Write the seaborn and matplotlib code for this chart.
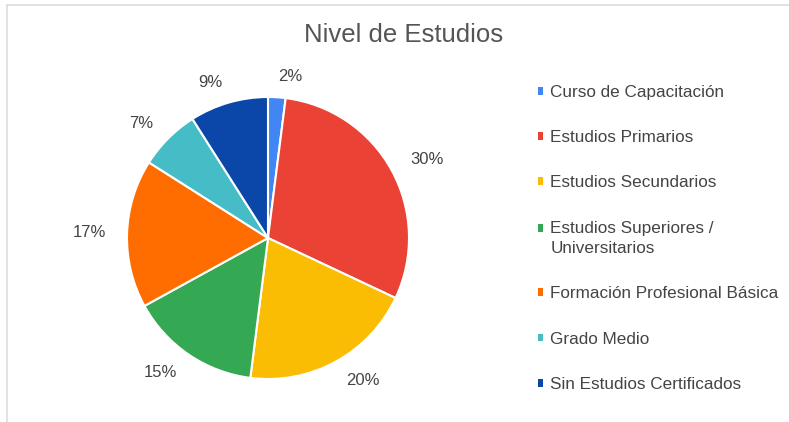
import matplotlib
matplotlib.use("Agg")
import matplotlib.pyplot as plt
from matplotlib.patches import Patch
from matplotlib.lines import Line2D
import seaborn as sns

categories = [
    "Curso de Capacitación",
    "Estudios Primarios",
    "Estudios Secundarios",
    "Estudios Superiores /\nUniversitarios",
    "Formación Profesional Básica",
    "Grado Medio",
    "Sin Estudios Certificados",
]
values = [2, 30, 20, 15, 17, 7, 9]
colors = ["#4285F4", "#EA4335", "#FBBC04", "#34A853", "#FF6D01", "#46BDC6", "#0B47A8"]

sns.set_theme(style="white")
plt.rcParams["font.family"] = ["Liberation Sans", "DejaVu Sans"]
palette = sns.color_palette(colors)

fig = plt.figure(figsize=(7.89, 4.22), dpi=100)

# pie axes: center (268,238), radius 141 px
cx, cy, r = 268, 238, 141
W, H = 789, 422
ax = fig.add_axes([(cx - r) / W, (H - cy - r) / H, 2 * r / W, 2 * r / H])
wedges, texts = ax.pie(
    values,
    colors=palette,
    startangle=90,
    counterclock=False,
    wedgeprops=dict(edgecolor="white", linewidth=1.5),
    labels=[f"{v}%" for v in values],
    labeldistance=1.15,
    textprops=dict(fontsize=12, color="#444444"),
)
ax.set_xlim(-1, 1)
ax.set_ylim(-1, 1)
ax.set_aspect("equal")
ax.axis("off")

fig.text(404 / W, 1 - 35 / H, "Nivel de Estudios", ha="center", va="center",
         fontsize=18.5, color="#555555")

handles = [Patch(facecolor=c, edgecolor="none") for c in palette]
leg = fig.legend(
    handles, categories,
    loc="upper left", bbox_to_anchor=(538 / W, 1 - 85 / H),
    frameon=False, fontsize=12.3, labelcolor="#444444",
    handlelength=0.32, handleheight=0.32, handletextpad=0.4,
    labelspacing=1.77, borderpad=0, borderaxespad=0,
)
for t in leg.get_texts():
    t.set_linespacing(1.45)
# align the marker of the two-line entry with its first line
h4 = leg.legend_handles[3]
h4.set_y(h4.get_y() + 7.5)

# light border lines (top and left)
fig.add_artist(Line2D([7 / W, 7 / W], [1 - 5 / H, 0], color="#dddddd", lw=1.2))
fig.add_artist(Line2D([7 / W, 1], [1 - 5 / H, 1 - 5 / H], color="#dddddd", lw=1.2))

fig.savefig("out.png", dpi=100, facecolor="white")
